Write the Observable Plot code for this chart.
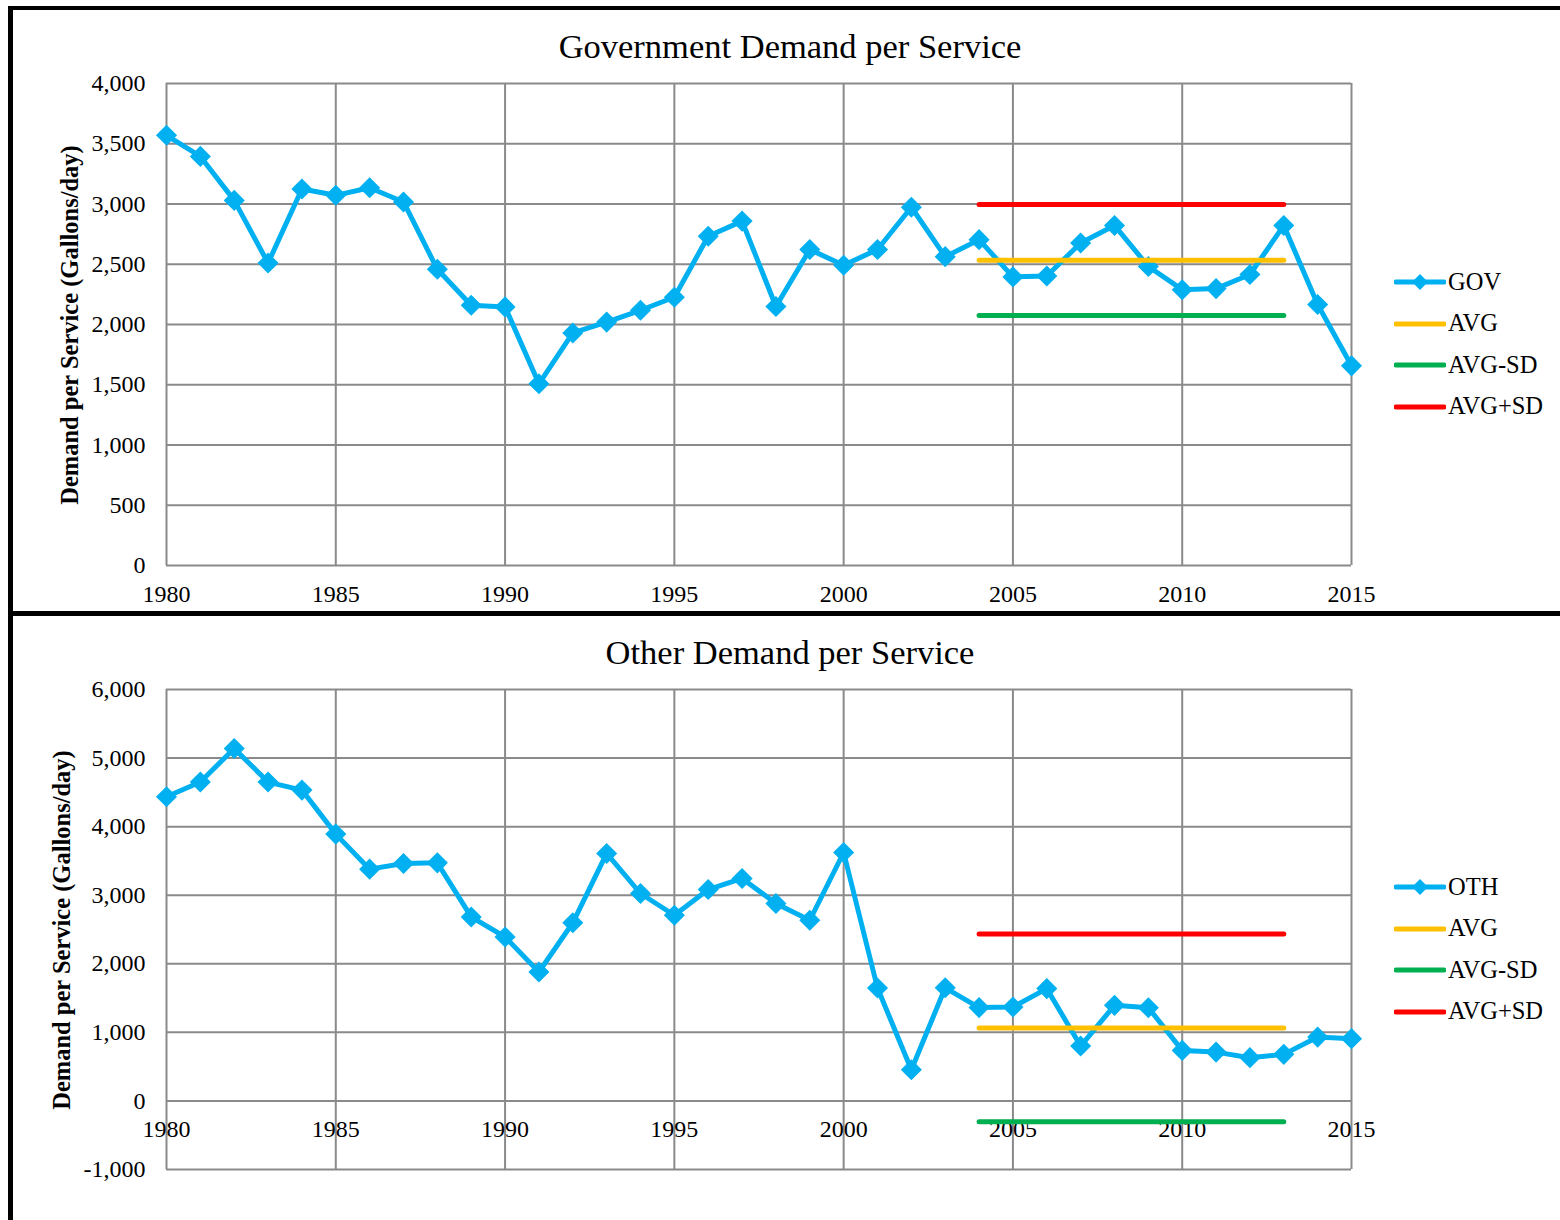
<!DOCTYPE html>
<html><head><meta charset="utf-8">
<script src="https://cdn.jsdelivr.net/npm/d3@7"></script>
<script src="https://cdn.jsdelivr.net/npm/@observablehq/plot@0.6"></script>
<style>
body{margin:0;background:#fff;}
#root{position:relative;width:1560px;height:1220px;overflow:hidden;font-family:"Liberation Serif","Times New Roman",serif;color:#000;background:#fff;}
.abs{position:absolute;}
.title{position:absolute;left:0;width:1580px;text-align:center;font-size:34.5px;line-height:1;white-space:nowrap;}
.ylab{position:absolute;font-size:24.5px;font-weight:bold;white-space:nowrap;transform:translate(-50%,-50%) rotate(-90deg);line-height:1;}
.leg{position:absolute;font-size:24.5px;line-height:1;white-space:nowrap;display:flex;align-items:center;}
.leg svg{display:block;margin-right:2px;}
.bar{position:absolute;background:#000;}
</style></head><body><div id="root"></div>
<script>
// ---- data ----
const years = [1980,1981,1982,1983,1984,1985,1986,1987,1988,1989,1990,1991,1992,1993,1994,1995,1996,1997,1998,1999,2000,2001,2002,2003,2004,2005,2006,2007,2008,2009,2010,2011,2012,2013,2014,2015];
const govValues = [3570,3395,3030,2510,3125,3072,3135,3017,2458,2160,2146,1508,1930,2020,2118,2226,2733,2858,2149,2622,2492,2622,2973,2563,2704,2395,2402,2677,2822,2481,2289,2298,2415,2822,2166,1657];
const othValues = [4435,4652,5140,4650,4533,3891,3380,3462,3472,2683,2391,1880,2598,3609,3025,2708,3083,3244,2879,2635,3623,1647,455,1650,1361,1370,1638,800,1394,1360,737,712,631,679,931,908];
const statYears = [2004, 2013];
const statNames = ["AVG", "AVG-SD", "AVG+SD"];
const govStats = [2534, 2075, 2995];
const othStats = [1065, -302, 2435];
const xTicks = [1980,1985,1990,1995,2000,2005,2010,2015];
const govYTicks = [0,500,1000,1500,2000,2500,3000,3500,4000];
const othYTicks = [-1000,0,1000,2000,3000,4000,5000,6000];
const titles = ["Government Demand per Service", "Other Demand per Service"];
const seriesNames = ["GOV", "OTH"];
const yLabel = "Demand per Service (Gallons/day)";

// ---- styles ----
const BLUE = "#00B0F0";
const statColors = ["#FFC000", "#00B050", "#FF0000"];
const GRID = "#8a8a8a";
const FONT = "'Liberation Serif','Times New Roman',serif";
const fmt = d => d.toLocaleString("en-US");

const root = document.getElementById("root");

function makePanel({values, stats, yDomain, yTicks, height, mt, mb, axisAtZero}) {
  const rows = years.map((y, i) => ({year: y, value: values[i]}));
  const statMarks = stats.map((v, k) => Plot.line(statYears.map(y => ({year: y, v})), {
    x: "year", y: "v", stroke: statColors[k], strokeWidth: 5, strokeLinecap: "round"
  }));
  const marks = [
    Plot.gridX(xTicks, {stroke: GRID, strokeOpacity: 1, strokeWidth: 2}),
    Plot.gridY(yTicks, {stroke: GRID, strokeOpacity: 1, strokeWidth: 2}),
    Plot.axisY(yTicks, {tickSize: 0, tickPadding: 21, tickFormat: fmt, label: null, fontSize: 24}),
  ];
  if (axisAtZero) {
    marks.push(Plot.text(xTicks, {x: d => d, y: () => 0, text: d => String(d), dy: 19, lineAnchor: "top", fontSize: 24}));
    marks.push(Plot.axisX(xTicks, {tickSize: 0, tickFormat: () => "", label: null}));
  } else {
    marks.push(Plot.axisX(xTicks, {tickSize: 0, tickPadding: 19, tickFormat: d => String(d), label: null, fontSize: 24}));
  }
  marks.push(
    Plot.line(rows, {x: "year", y: "value", stroke: BLUE, strokeWidth: 5, strokeLinejoin: "round"}),
    Plot.dot(rows, {x: "year", y: "value", symbol: "diamond2", r: 9.5, fill: BLUE, stroke: "none"}),
    ...statMarks
  );
  return Plot.plot({
    width: 1560, height,
    marginLeft: 166, marginRight: 209, marginTop: mt, marginBottom: mb,
    x: {domain: [1980, 2015]},
    y: {domain: yDomain},
    style: {fontFamily: FONT, fontSize: "24px", color: "#000", background: "transparent", overflow: "visible"},
    marks
  });
}

function place(el, left, top) {
  el.style.position = "absolute"; el.style.left = left + "px"; el.style.top = top + "px";
  root.appendChild(el);
}

const p1 = makePanel({values: govValues, stats: govStats, yDomain: [0, 4000], yTicks: govYTicks, height: 612, mt: 83, mb: 47});
place(p1, 0, 0);
const p2 = makePanel({values: othValues, stats: othStats, yDomain: [-1000, 6000], yTicks: othYTicks, height: 608, mt: 77, mb: 51, axisAtZero: true});
place(p2, 0, 612);

// titles
[[titles[0], 29], [titles[1], 635]].forEach(([t, top]) => {
  const d = document.createElement("div"); d.className = "title"; d.textContent = t; d.style.top = top + "px"; root.appendChild(d);
});
// y labels
[[70, 325], [62, 930]].forEach(([x, y]) => {
  const d = document.createElement("div"); d.className = "ylab"; d.textContent = yLabel;
  d.style.left = x + "px"; d.style.top = y + "px"; root.appendChild(d);
});
// legends
function legendItem(name, color, diamond, top) {
  const d = document.createElement("div"); d.className = "leg";
  d.style.left = "1394px"; d.style.top = (top - 14) + "px";
  const svg = d3.create("svg").attr("width", 52).attr("height", 28);
  svg.append("line").attr("x1", 2).attr("x2", 50).attr("y1", 14).attr("y2", 14)
    .attr("stroke", color).attr("stroke-width", 5).attr("stroke-linecap", "round");
  if (diamond) svg.append("path").attr("d", "M26,6L34,14L26,22L18,14Z").attr("fill", color);
  d.appendChild(svg.node());
  const s = document.createElement("span"); s.textContent = name; d.appendChild(s);
  root.appendChild(d);
}
[[282, seriesNames[0]], [887, seriesNames[1]]].forEach(([top, sname]) => {
  legendItem(sname, BLUE, true, top);
  statNames.forEach((n, k) => legendItem(n, statColors[k], false, top + 41.5 * (k + 1)));
});
// panel borders
function bar(l, t, w, h) { const b = document.createElement("div"); b.className = "bar"; Object.assign(b.style, {left: l + "px", top: t + "px", width: w + "px", height: h + "px"}); root.appendChild(b); }
bar(8, 6, 1560, 4);
bar(8, 6, 4.5, 1220);
bar(8, 611, 1560, 5);
</script>
</body></html>
